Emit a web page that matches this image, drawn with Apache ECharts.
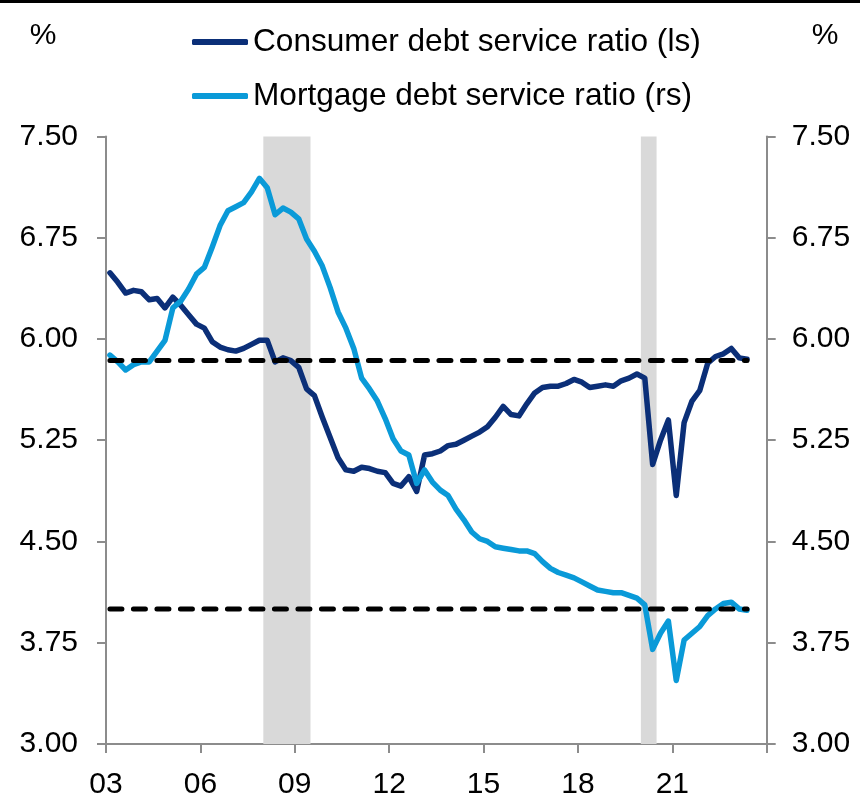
<!DOCTYPE html>
<html>
<head>
<meta charset="utf-8">
<script src="https://cdn.jsdelivr.net/npm/echarts@6/dist/echarts.min.js"></script>
<style>
  html, body { margin: 0; padding: 0; background: #ffffff; }
  #chart { width: 860px; height: 795px; }
</style>
</head>
<body>
<div id="chart"></div>
<script>
// Household debt service ratios, % of disposable income, quarterly from 2003 Q1
const firstYear = 2003;

const consumerDSR = [
  6.49, 6.42, 6.34, 6.36, 6.35, 6.29, 6.30, 6.23, 6.31, 6.25,
  6.18, 6.11, 6.08, 5.98, 5.94, 5.92, 5.91, 5.93, 5.96, 5.99,
  5.99, 5.83, 5.86, 5.84, 5.79, 5.63, 5.58, 5.42, 5.27, 5.12,
  5.03, 5.02, 5.05, 5.04, 5.02, 5.01, 4.93, 4.91, 4.98, 4.87,
  5.14, 5.15, 5.17, 5.21, 5.22, 5.25, 5.28, 5.31, 5.35, 5.42,
  5.50, 5.44, 5.43, 5.52, 5.60, 5.64, 5.65, 5.65, 5.67, 5.70,
  5.68, 5.64, 5.65, 5.66, 5.65, 5.69, 5.71, 5.74, 5.71, 5.07,
  5.25, 5.40, 4.84, 5.38, 5.54, 5.62, 5.82, 5.87, 5.89, 5.93,
  5.86, 5.85
];

const mortgageDSR = [
  5.88, 5.83, 5.77, 5.81, 5.83, 5.83, 5.91, 5.99, 6.23, 6.28,
  6.37, 6.48, 6.53, 6.68, 6.84, 6.95, 6.98, 7.01, 7.09, 7.19,
  7.12, 6.92, 6.97, 6.94, 6.89, 6.74, 6.65, 6.54, 6.38, 6.20,
  6.08, 5.93, 5.71, 5.63, 5.54, 5.41, 5.26, 5.17, 5.14, 4.93,
  5.03, 4.94, 4.88, 4.84, 4.74, 4.66, 4.57, 4.52, 4.50, 4.46,
  4.45, 4.44, 4.43, 4.43, 4.41, 4.35, 4.30, 4.27, 4.25, 4.23,
  4.20, 4.17, 4.14, 4.13, 4.12, 4.12, 4.10, 4.08, 4.03, 3.70,
  3.82, 3.91, 3.47, 3.77, 3.82, 3.87, 3.95, 4.00, 4.04, 4.05,
  4.00, 3.99
];

// Long-run averages (dashed reference lines)
const consumerAvg = 5.84;
const mortgageAvg = 4.00;

// Recession periods, in decimal years
const recessions = [[2008.0, 2009.5], [2020.0, 2020.5]];

// Axis ranges and tick steps
const yMin = 3.00, yMax = 7.50, yStep = 0.75;
const xMin = 2003, xMax = 2024, xStep = 3;

const seriesNames = ['Consumer debt service ratio (ls)', 'Mortgage debt service ratio (rs)'];

// Each quarter is placed at its midpoint on the year axis
const quarterPos = consumerDSR.map((_, i) => firstYear + i * 0.25 + 0.125);
const toPairs = vals => vals.map((v, i) => [quarterPos[i], v]);
const firstX = quarterPos[0];
const lastX = quarterPos[quarterPos.length - 1];

const FONT = '"Liberation Sans", Arial, sans-serif';
const AXIS_GREY = '#8c8c8c';
const NAVY = '#0b2f78';
const SKY = '#0a9ad8';
const TICK_FONT = 30;
const LEGEND_FONT = 31.6;
const LINE_W = 5.5;

function yAxisCfg(pos) {
  return {
    type: 'value',
    position: pos,
    min: yMin, max: yMax, interval: yStep,
    axisLine: { show: true, lineStyle: { color: AXIS_GREY, width: 2 } },
    axisTick: { show: true, inside: false, length: 9, lineStyle: { color: AXIS_GREY, width: 2 } },
    axisLabel: {
      color: '#000', fontSize: TICK_FONT, fontFamily: FONT,
      margin: pos === 'left' ? 28 : 25,
      formatter: v => v.toFixed(2)
    },
    splitLine: { show: false }
  };
}

const legendCfg = (name, top) => ({
  data: [name], left: 192, top: top, padding: 0,
  icon: 'roundRect', itemWidth: 56, itemHeight: 6,
  textStyle: { color: '#000', fontSize: LEGEND_FONT, fontFamily: FONT }
});

const chart = echarts.init(document.getElementById('chart'), null, { renderer: 'canvas' });

chart.setOption({
  animation: false,
  backgroundColor: '#ffffff',
  textStyle: { fontFamily: FONT },
  grid: {
    left: 106, right: 93.3, top: 136.5, bottom: 51.1,
    containLabel: false, outerBoundsMode: 'none'
  },
  legend: [legendCfg(seriesNames[0], 26), legendCfg(seriesNames[1], 80)],
  graphic: [
    { type: 'rect', left: 0, top: 0, shape: { width: 860, height: 3 }, style: { fill: '#000' } },
    { type: 'text', x: 43, y: 36, style: { text: '%', fontSize: TICK_FONT, fontFamily: FONT, fill: '#000', align: 'center', verticalAlign: 'middle' } },
    { type: 'text', x: 825, y: 36, style: { text: '%', fontSize: TICK_FONT, fontFamily: FONT, fill: '#000', align: 'center', verticalAlign: 'middle' } }
  ],
  xAxis: {
    type: 'value',
    min: xMin, max: xMax, interval: xStep,
    axisLine: { show: true, onZero: false, lineStyle: { color: AXIS_GREY, width: 2 } },
    axisTick: { show: true, inside: false, length: 9, lineStyle: { color: AXIS_GREY, width: 2 } },
    axisLabel: {
      color: '#000', fontSize: TICK_FONT, fontFamily: FONT, margin: 26,
      formatter: v => (v >= xMax ? '' : String(v % 100).padStart(2, '0'))
    },
    splitLine: { show: false }
  },
  yAxis: [yAxisCfg('left'), yAxisCfg('right')],
  series: [
    {
      // recession shading
      type: 'line', data: [], silent: true, z: 1,
      markArea: {
        silent: true,
        itemStyle: { color: '#d9d9d9' },
        data: recessions.map(([a, b]) => [{ xAxis: a }, { xAxis: b }])
      }
    },
    {
      name: seriesNames[0], type: 'line', yAxisIndex: 0, z: 3,
      data: toPairs(consumerDSR), showSymbol: false, symbol: 'none',
      color: NAVY,
      lineStyle: { color: NAVY, width: LINE_W, cap: 'round', join: 'round' }
    },
    {
      name: seriesNames[1], type: 'line', yAxisIndex: 1, z: 4,
      data: toPairs(mortgageDSR), showSymbol: false, symbol: 'none',
      color: SKY,
      lineStyle: { color: SKY, width: LINE_W, cap: 'round', join: 'round' }
    },
    {
      type: 'line', yAxisIndex: 0, z: 5, silent: true, symbol: 'none',
      data: [[firstX, consumerAvg], [lastX, consumerAvg]],
      lineStyle: { color: '#000', width: 5, type: [12, 11.5], cap: 'round' }
    },
    {
      type: 'line', yAxisIndex: 1, z: 5, silent: true, symbol: 'none',
      data: [[firstX, mortgageAvg], [lastX, mortgageAvg]],
      lineStyle: { color: '#000', width: 5, type: [12, 11.5], cap: 'round' }
    }
  ]
});
</script>
</body>
</html>
